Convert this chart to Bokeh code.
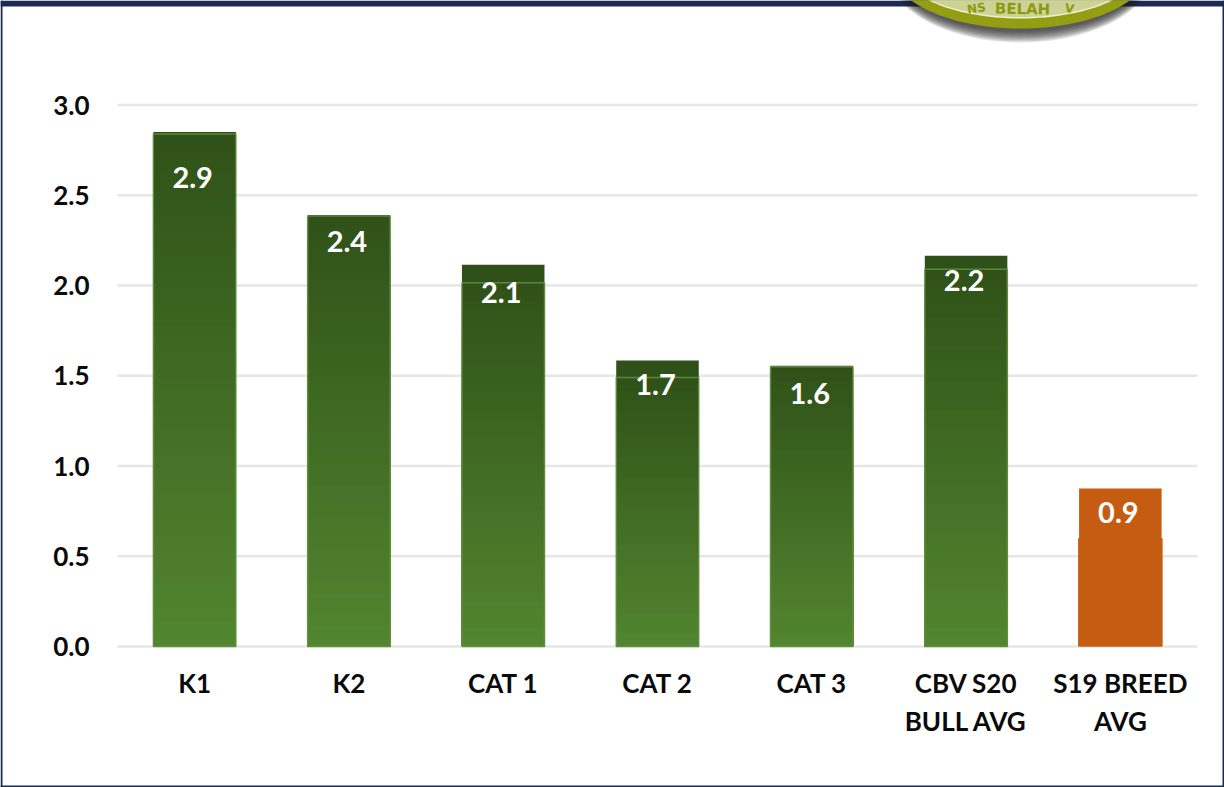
import math
from bokeh.plotting import figure
from bokeh.models import Range1d, FixedTicker, PolyAnnotation, BoxAnnotation, Label
from bokeh.core.properties import value
from bokeh.embed import file_html
from bokeh.resources import INLINE

categories = ["K1", "K2", "CAT 1", "CAT 2", "CAT 3", "CBV S20\nBULL AVG", "S19 BREED\nAVG"]
back_values = [2.85, 2.39, 2.115, 1.585, 1.555, 2.165, 0.875]
front_values = [2.84, 2.385, 2.015, 1.49, 1.55, 2.09, 0.60]
labels = ["2.9", "2.4", "2.1", "1.7", "1.6", "2.2", "0.9"]
y_ticks = [0.0, 0.5, 1.0, 1.5, 2.0, 2.5, 3.0]

label_offsets = [45, 26, 28, 24, 28, 25, 24]
TOP_C = (0x30, 0x52, 0x19)
BOT_C = (0x52, 0x85, 0x2f)
ORANGE = "#c55c11"
NAVY = "#1c2b50"
FONT = "Lato"

W, H = 1224, 787
PX_X = 1080 / 7
PX_Y = 180.5
x_pos = [i + 0.5 for i in range(len(categories))]

p = figure(width=W, height=H, output_backend="svg", toolbar_location=None,
           x_range=Range1d(-117 / PX_X, (W - 117) / PX_X),
           y_range=Range1d(-(H - 646) / PX_Y, 646 / PX_Y),
           min_border_left=0, min_border_right=0, min_border_top=0, min_border_bottom=0,
           margin=0)
p.outline_line_color = None
p.xgrid.visible = False
p.ygrid.visible = False

p.segment(x0=[0] * len(y_ticks), x1=[len(categories)] * len(y_ticks), y0=y_ticks, y1=y_ticks,
          line_color="#e6e6e6", line_width=2.5)

p.yaxis.fixed_location = 0
p.xaxis.fixed_location = 0
p.yaxis.ticker = FixedTicker(ticks=y_ticks)
p.yaxis.major_label_overrides = {t: f"{t:.1f}" for t in y_ticks}
p.xaxis.ticker = FixedTicker(ticks=x_pos)
p.xaxis.major_label_overrides = dict(zip(x_pos, categories))
for ax in (p.xaxis[0], p.yaxis[0]):
    ax.axis_line_color = None
    ax.major_tick_line_color = None
    ax.minor_tick_line_color = None
    ax.major_label_text_font = FONT
    ax.major_label_text_font_style = "bold"
    ax.major_label_text_font_size = "26px"
    ax.major_label_text_color = "#0a0a0a"
p.yaxis.major_label_standoff = 22
p.xaxis.major_label_standoff = 14
p.xaxis.major_label_orientation = "horizontal"

WIDTH = 0.535
gx, ox = x_pos[:6], x_pos[6:]

p.vbar(x=gx, top=back_values[:6], bottom=0, width=WIDTH, fill_color="#2f5119", line_color=None)
p.vbar(x=ox, top=back_values[6:], bottom=0, width=WIDTH, fill_color=ORANGE, line_color=None)

# gradient front bars: nested bars, painted tallest (darkest) first
N = 40
for i in range(N):
    frac = 1 - i / N
    t = i / (N - 1)
    c = tuple(round(a + (b - a) * t) for a, b in zip(TOP_C, BOT_C))
    p.vbar(x=gx, top=[v * frac for v in front_values[:6]], bottom=0, width=WIDTH,
           fill_color="#%02x%02x%02x" % c, line_color=None)
p.vbar(x=gx, top=front_values[:6], bottom=0, width=WIDTH, fill_color=None,
       line_color="#639142", line_width=1.5, line_alpha=0.85)
p.vbar(x=ox, top=front_values[6:], bottom=0, width=WIDTH + 0.013, fill_color=ORANGE, line_color=None)

p.text(x=x_pos, y=back_values, text=labels, y_offset=label_offsets, x_offset=-2,
       text_font=value(FONT), text_font_style="bold", text_font_size="29px", text_color="white",
       text_align="center", text_baseline="middle")

# slide frame (screen y of annotations runs up from the bottom)
for l, r, t, b in [(0, W, 0, 6), (0, 2, 0, H), (W - 2, W, 0, H), (0, W, H - 2, H)]:
    p.add_layout(BoxAnnotation(left=l, right=r, top=H - t, bottom=H - b, left_units="screen", right_units="screen",
                               top_units="screen", bottom_units="screen", fill_color=NAVY, fill_alpha=1,
                               line_color=None, level="overlay"))

# emblem cut off by the top of the slide
def blob(cx, cy, a, b, color, alpha=1.0):
    xs = [cx + a * math.cos(2 * math.pi * k / 120) for k in range(120)]
    ys = [H - (cy + b * math.sin(2 * math.pi * k / 120)) for k in range(120)]
    p.add_layout(PolyAnnotation(xs=xs, ys=ys, xs_units="screen", ys_units="screen", fill_color=color,
                                fill_alpha=alpha, line_color=None, level="overlay"))

for k in range(10):
    blob(1020, -32, 134 - k * 0.6, 74 - k * 1.2, "#222222", 0.12)
blob(1020, -32, 129, 60, "#949e12")
blob(1020, -33, 120, 51, "#eef0d0")
blob(1020, -33, 119, 49.5, "#cdd396")
for txt, x, y, ang, size in [("NS", 976, 8, 0.15, "12px"), ("BELAH", 1022, 8.5, -0.02, "15px"), ("V", 1069, 8, -0.15, "12px")]:
    p.add_layout(Label(x=x, y=H - y, x_units="screen", y_units="screen", text=txt, text_font="DejaVu Sans",
                       text_font_style="bold", text_font_size=size, text_color="#8c9a10", angle=ang,
                       text_align="center", text_baseline="middle", level="overlay"))

open("out.html", "w").write(file_html(p, INLINE))
